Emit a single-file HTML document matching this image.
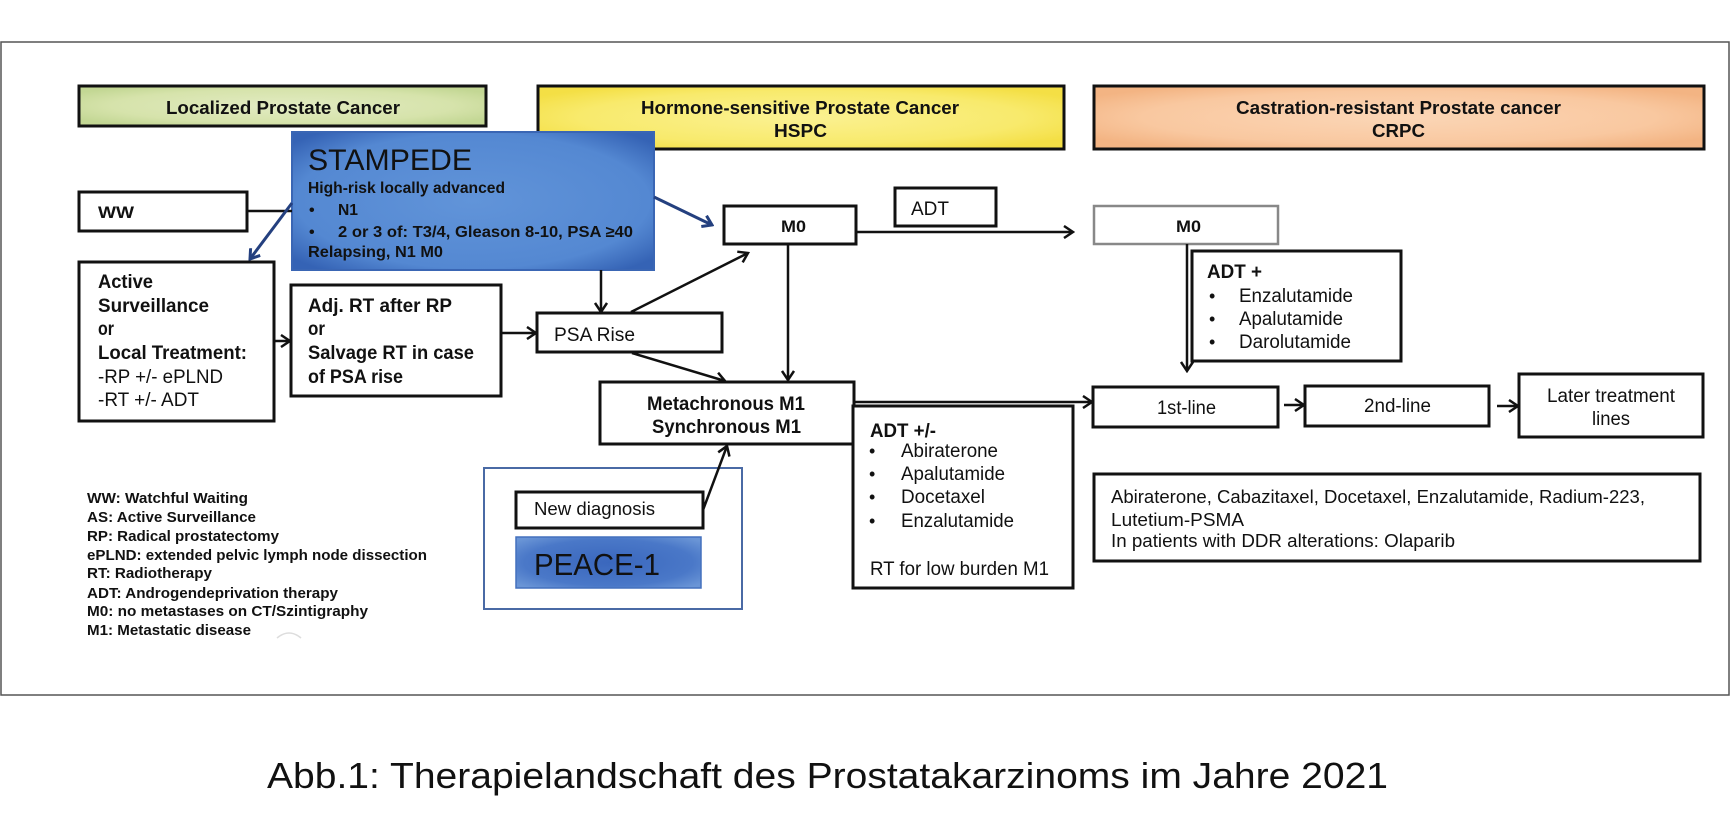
<!DOCTYPE html>
<html><head><meta charset="utf-8"><style>
html,body{margin:0;padding:0;background:#fff;}
svg{display:block;}
text{font-family:"Liberation Sans",Arial,sans-serif;fill:#111;}
.b{font-weight:bold;}
</style></head><body>
<svg width="1731" height="827" viewBox="0 0 1731 827" xmlns="http://www.w3.org/2000/svg">
<defs>
<radialGradient id="gG" cx="50%" cy="50%" r="60%"><stop offset="0" stop-color="#e2ebc2"/><stop offset="0.7" stop-color="#d6e3ab"/><stop offset="1" stop-color="#c3d794"/></radialGradient>
<radialGradient id="gY" cx="50%" cy="50%" r="60%"><stop offset="0" stop-color="#fbf192"/><stop offset="0.7" stop-color="#f8ea6c"/><stop offset="1" stop-color="#f4df45"/></radialGradient>
<radialGradient id="gP" cx="50%" cy="50%" r="60%"><stop offset="0" stop-color="#fbd6b6"/><stop offset="0.7" stop-color="#f9c8a0"/><stop offset="1" stop-color="#f3b483"/></radialGradient>
<radialGradient id="gB" cx="50%" cy="50%" r="65%"><stop offset="0" stop-color="#6194d9"/><stop offset="0.75" stop-color="#5488d2"/><stop offset="1" stop-color="#3563b5"/></radialGradient>
<radialGradient id="gB2" cx="50%" cy="50%" r="65%"><stop offset="0" stop-color="#3a67bd"/><stop offset="0.7" stop-color="#4a78c8"/><stop offset="1" stop-color="#6a95d6"/></radialGradient>
<marker id="ah" markerWidth="12" markerHeight="14" refX="10" refY="7" orient="auto" markerUnits="userSpaceOnUse">
<path d="M1,1 L10,7 L1,13" fill="none" stroke="#111" stroke-width="2.5"/></marker>
<marker id="ahb" markerWidth="12" markerHeight="14" refX="10" refY="7" orient="auto" markerUnits="userSpaceOnUse">
<path d="M1,1 L10,7 L1,13" fill="none" stroke="#24407f" stroke-width="3"/></marker>
</defs>

<!-- outer frame -->
<rect x="1" y="42" width="1728" height="653" fill="#fff" stroke="#555" stroke-width="1.5"/>

<!-- headings -->
<rect x="79" y="86" width="407" height="40" fill="url(#gG)" stroke="#111" stroke-width="3"/>
<text class="b" x="166" y="114" font-size="18" textLength="234" lengthAdjust="spacingAndGlyphs">Localized Prostate Cancer</text>
<rect x="538" y="86" width="526" height="63" fill="url(#gY)" stroke="#111" stroke-width="3"/>
<text class="b" x="641" y="114" font-size="18" textLength="318" lengthAdjust="spacingAndGlyphs">Hormone-sensitive Prostate Cancer</text>
<text class="b" x="774" y="137" font-size="18" textLength="53" lengthAdjust="spacingAndGlyphs">HSPC</text>
<rect x="1094" y="86" width="610" height="63" fill="url(#gP)" stroke="#111" stroke-width="3"/>
<text class="b" x="1236" y="114" font-size="18" textLength="325" lengthAdjust="spacingAndGlyphs">Castration-resistant Prostate cancer</text>
<text class="b" x="1372" y="137" font-size="18" textLength="53" lengthAdjust="spacingAndGlyphs">CRPC</text>

<!-- STAMPEDE -->
<rect x="292" y="132" width="362" height="138" fill="url(#gB)" stroke="#3a66b4" stroke-width="2"/>
<text x="308" y="170" font-size="30" textLength="164" lengthAdjust="spacingAndGlyphs">STAMPEDE</text>
<text class="b" x="308" y="193" font-size="16" textLength="197" lengthAdjust="spacingAndGlyphs">High-risk locally advanced</text>
<text class="b" x="309" y="215" font-size="16">•</text>
<text class="b" x="338" y="215" font-size="16" textLength="20" lengthAdjust="spacingAndGlyphs">N1</text>
<text class="b" x="309" y="237" font-size="16">•</text>
<text class="b" x="338" y="237" font-size="16" textLength="295" lengthAdjust="spacingAndGlyphs">2 or 3 of: T3/4, Gleason 8-10, PSA ≥40</text>
<text class="b" x="308" y="257" font-size="16" textLength="135" lengthAdjust="spacingAndGlyphs">Relapsing, N1 M0</text>

<!-- WW -->
<rect x="79" y="192" width="168" height="39" fill="#fff" stroke="#111" stroke-width="3"/>
<text class="b" x="98" y="218" font-size="17" textLength="36" lengthAdjust="spacingAndGlyphs">WW</text>
<line x1="247" y1="211" x2="292" y2="211" stroke="#111" stroke-width="2.5"/>
<line x1="292" y1="203" x2="250" y2="259" stroke="#24407f" stroke-width="3" marker-end="url(#ahb)"/>

<!-- Active surveillance -->
<rect x="79" y="262" width="195" height="159" fill="#fff" stroke="#111" stroke-width="3"/>
<text class="b" x="98" y="288" font-size="19" textLength="55" lengthAdjust="spacingAndGlyphs">Active</text>
<text class="b" x="98" y="312" font-size="19" textLength="111" lengthAdjust="spacingAndGlyphs">Surveillance</text>
<text class="b" x="98" y="335" font-size="19" textLength="16" lengthAdjust="spacingAndGlyphs">or</text>
<text class="b" x="98" y="359" font-size="19" textLength="149" lengthAdjust="spacingAndGlyphs">Local Treatment:</text>
<text x="98" y="383" font-size="19" textLength="125" lengthAdjust="spacingAndGlyphs">-RP +/- ePLND</text>
<text x="98" y="406" font-size="19" textLength="101" lengthAdjust="spacingAndGlyphs">-RT +/- ADT</text>
<line x1="274" y1="341" x2="290" y2="341" stroke="#111" stroke-width="2.5" marker-end="url(#ah)"/>

<!-- Adj RT -->
<rect x="291" y="285" width="210" height="111" fill="#fff" stroke="#111" stroke-width="3"/>
<text class="b" x="308" y="312" font-size="19" textLength="144" lengthAdjust="spacingAndGlyphs">Adj. RT after RP</text>
<text class="b" x="308" y="335" font-size="19" textLength="17" lengthAdjust="spacingAndGlyphs">or</text>
<text class="b" x="308" y="359" font-size="19" textLength="166" lengthAdjust="spacingAndGlyphs">Salvage RT in case</text>
<text class="b" x="308" y="383" font-size="19" textLength="95" lengthAdjust="spacingAndGlyphs">of PSA rise</text>
<line x1="501" y1="333" x2="536" y2="333" stroke="#111" stroke-width="2.5" marker-end="url(#ah)"/>

<!-- PSA Rise -->
<line x1="601" y1="270" x2="601" y2="312" stroke="#111" stroke-width="2.5" marker-end="url(#ah)"/>
<rect x="537" y="313" width="185" height="39" fill="#fff" stroke="#111" stroke-width="3"/>
<text x="554" y="341" font-size="19" textLength="81" lengthAdjust="spacingAndGlyphs">PSA Rise</text>

<!-- HSPC M0 -->
<line x1="654" y1="197" x2="712" y2="225" stroke="#24407f" stroke-width="3" marker-end="url(#ahb)"/>
<rect x="724" y="206" width="132" height="38" fill="#fff" stroke="#111" stroke-width="3"/>
<text class="b" x="781" y="232" font-size="17" textLength="25" lengthAdjust="spacingAndGlyphs">M0</text>
<rect x="895" y="188" width="101" height="38" fill="#fff" stroke="#111" stroke-width="3"/>
<text x="911" y="215" font-size="19" textLength="38" lengthAdjust="spacingAndGlyphs">ADT</text>
<line x1="856" y1="232" x2="1073" y2="232" stroke="#111" stroke-width="2.5" marker-end="url(#ah)"/>
<line x1="631" y1="312" x2="748" y2="253" stroke="#111" stroke-width="2.5" marker-end="url(#ah)"/>
<line x1="788" y1="244" x2="788" y2="380" stroke="#111" stroke-width="2.5" marker-end="url(#ah)"/>
<line x1="632" y1="353" x2="725" y2="381" stroke="#111" stroke-width="2.5" marker-end="url(#ah)"/>

<!-- Metachronous -->
<rect x="600" y="382" width="254" height="62" fill="#fff" stroke="#111" stroke-width="3"/>
<text class="b" x="647" y="410" font-size="19" textLength="158" lengthAdjust="spacingAndGlyphs">Metachronous M1</text>
<text class="b" x="652" y="433" font-size="19" textLength="149" lengthAdjust="spacingAndGlyphs">Synchronous M1</text>
<line x1="854" y1="402" x2="1092" y2="402" stroke="#111" stroke-width="2.5" marker-end="url(#ah)"/>

<!-- ADT +/- -->
<rect x="853" y="406" width="220" height="182" fill="#fff" stroke="#111" stroke-width="3"/>
<text class="b" x="870" y="437" font-size="19" textLength="66" lengthAdjust="spacingAndGlyphs">ADT +/-</text>
<text x="869" y="457" font-size="18">•</text>
<text x="901" y="457" font-size="19" textLength="97" lengthAdjust="spacingAndGlyphs">Abiraterone</text>
<text x="869" y="480" font-size="18">•</text>
<text x="901" y="480" font-size="19" textLength="104" lengthAdjust="spacingAndGlyphs">Apalutamide</text>
<text x="869" y="503" font-size="18">•</text>
<text x="901" y="503" font-size="19" textLength="84" lengthAdjust="spacingAndGlyphs">Docetaxel</text>
<text x="869" y="527" font-size="18">•</text>
<text x="901" y="527" font-size="19" textLength="113" lengthAdjust="spacingAndGlyphs">Enzalutamide</text>
<text x="870" y="575" font-size="19" textLength="179" lengthAdjust="spacingAndGlyphs">RT for low burden M1</text>

<!-- PEACE-1 -->
<rect x="484" y="468" width="258" height="141" fill="#fff" stroke="#4a6aa5" stroke-width="2"/>
<rect x="516" y="492" width="187" height="36" fill="#fff" stroke="#111" stroke-width="3"/>
<text x="534" y="515" font-size="18" textLength="121" lengthAdjust="spacingAndGlyphs">New diagnosis</text>
<rect x="516" y="537" width="185" height="51" fill="url(#gB2)" stroke="#4470bd" stroke-width="1.5"/>
<text x="534" y="575" font-size="31" textLength="126" lengthAdjust="spacingAndGlyphs">PEACE-1</text>
<line x1="703" y1="510" x2="727" y2="446" stroke="#111" stroke-width="2.5" marker-end="url(#ah)"/>

<!-- CRPC M0 -->
<rect x="1094" y="206" width="184" height="38" fill="#fff" stroke="#888" stroke-width="2.5"/>
<text class="b" x="1176" y="232" font-size="17" textLength="25" lengthAdjust="spacingAndGlyphs">M0</text>
<line x1="1187" y1="244" x2="1187" y2="371" stroke="#111" stroke-width="2.5" marker-end="url(#ah)"/>
<rect x="1192" y="251" width="209" height="110" fill="#fff" stroke="#111" stroke-width="3"/>
<text class="b" x="1207" y="278" font-size="19" textLength="55" lengthAdjust="spacingAndGlyphs">ADT +</text>
<text x="1209" y="302" font-size="18">•</text>
<text x="1239" y="302" font-size="19" textLength="114" lengthAdjust="spacingAndGlyphs">Enzalutamide</text>
<text x="1209" y="325" font-size="18">•</text>
<text x="1239" y="325" font-size="19" textLength="104" lengthAdjust="spacingAndGlyphs">Apalutamide</text>
<text x="1209" y="348" font-size="18">•</text>
<text x="1239" y="348" font-size="19" textLength="112" lengthAdjust="spacingAndGlyphs">Darolutamide</text>

<!-- lines of therapy -->
<rect x="1093" y="387" width="185" height="40" fill="#fff" stroke="#111" stroke-width="3"/>
<text x="1157" y="414" font-size="19" textLength="59" lengthAdjust="spacingAndGlyphs">1st-line</text>
<line x1="1284" y1="405" x2="1304" y2="405" stroke="#111" stroke-width="2.5" marker-end="url(#ah)"/>
<rect x="1305" y="386" width="184" height="40" fill="#fff" stroke="#111" stroke-width="3"/>
<text x="1364" y="412" font-size="19" textLength="67" lengthAdjust="spacingAndGlyphs">2nd-line</text>
<line x1="1497" y1="406" x2="1518" y2="406" stroke="#111" stroke-width="2.5" marker-end="url(#ah)"/>
<rect x="1519" y="374" width="184" height="63" fill="#fff" stroke="#111" stroke-width="3"/>
<text x="1547" y="402" font-size="19" textLength="128" lengthAdjust="spacingAndGlyphs">Later treatment</text>
<text x="1592" y="425" font-size="19" textLength="38" lengthAdjust="spacingAndGlyphs">lines</text>

<!-- bottom-right box -->
<rect x="1094" y="474" width="606" height="87" fill="#fff" stroke="#111" stroke-width="3"/>
<text x="1111" y="503" font-size="18" textLength="534" lengthAdjust="spacingAndGlyphs">Abiraterone, Cabazitaxel, Docetaxel, Enzalutamide, Radium-223,</text>
<text x="1111" y="526" font-size="18" textLength="133" lengthAdjust="spacingAndGlyphs">Lutetium-PSMA</text>
<text x="1111" y="547" font-size="18" textLength="344" lengthAdjust="spacingAndGlyphs">In patients with DDR alterations: Olaparib</text>

<!-- legend -->
<g class="b" font-size="14.5">
<text class="b" x="87" y="503" textLength="161" lengthAdjust="spacingAndGlyphs">WW: Watchful Waiting</text>
<text class="b" x="87" y="522" textLength="169" lengthAdjust="spacingAndGlyphs">AS: Active Surveillance</text>
<text class="b" x="87" y="541" textLength="192" lengthAdjust="spacingAndGlyphs">RP: Radical prostatectomy</text>
<text class="b" x="87" y="560" textLength="340" lengthAdjust="spacingAndGlyphs">ePLND: extended pelvic lymph node dissection</text>
<text class="b" x="87" y="578" textLength="125" lengthAdjust="spacingAndGlyphs">RT: Radiotherapy</text>
<text class="b" x="87" y="598" textLength="251" lengthAdjust="spacingAndGlyphs">ADT: Androgendeprivation therapy</text>
<text class="b" x="87" y="616" textLength="281" lengthAdjust="spacingAndGlyphs">M0:  no metastases on CT/Szintigraphy</text>
<text class="b" x="87" y="635" textLength="164" lengthAdjust="spacingAndGlyphs">M1: Metastatic disease</text>
</g>
<path d="M277,638 Q289,628 301,638" fill="none" stroke="#ddd" stroke-width="1.5"/>

<!-- caption -->
<text x="267" y="788" font-size="36" textLength="1121" lengthAdjust="spacingAndGlyphs">Abb.1: Therapielandschaft des Prostatakarzinoms im Jahre 2021</text>
</svg>
</body></html>
